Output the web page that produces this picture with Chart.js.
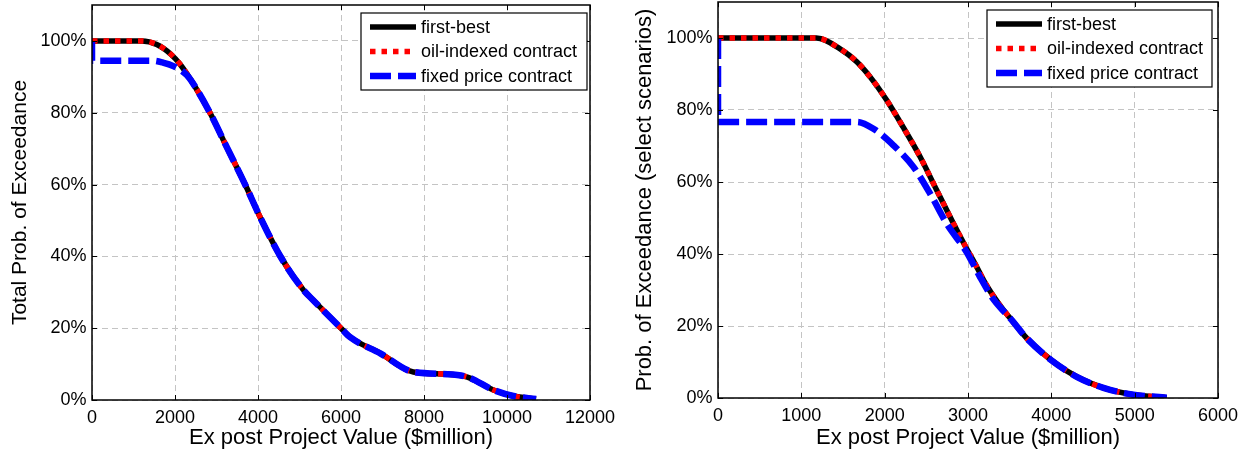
<!DOCTYPE html>
<html>
<head>
<meta charset="utf-8">
<script src="https://cdn.jsdelivr.net/npm/chart.js@4.4.0/dist/chart.umd.min.js"></script>
<style>
  body { margin: 0; background: #fff; }
  #wrap { position: relative; width: 1247px; height: 455px; }
  #c1 { position: absolute; left: 0; top: 0; }
  #c2 { position: absolute; left: 624px; top: 0; }
</style>
</head>
<body>
<div id="wrap">
  <canvas id="c1" width="620" height="455"></canvas>
  <canvas id="c2" width="623" height="455"></canvas>
</div>
<script>
// ---- data ----
var seriesNames = ['first-best', 'oil-indexed contract', 'fixed price contract'];

// left panel: total probability of exceedance
var leftBestX = [0, 1200, 1560, 1900, 2122, 2444, 2846, 3248, 3690, 4052, 4534, 5097, 5330, 6000, 6220, 6946, 7742, 8562, 9045, 9672, 10154, 10700];
var leftBestY = [100, 100, 99, 96.3, 93.5, 88, 79.9, 70.4, 60, 50.9, 40.1, 30.6, 27.8, 20, 17.5, 13, 7.8, 7.2, 6.4, 2.8, 1.1, 0.3];
// oil-indexed sits right on top of first-best
var leftOilX = [0, 1200, 1560, 1900, 2122, 2444, 2846, 3248, 3690, 4052, 4534, 5097, 5330, 6000, 6220, 6946, 7742, 8562, 9045, 9672, 10154, 10700];
var leftOilY = [100, 100, 99, 96.3, 93.5, 88, 79.9, 70.4, 60, 50.9, 40.1, 30.6, 27.8, 20, 17.5, 13, 7.8, 7.2, 6.4, 2.8, 1.1, 0.3];
var leftFixX = [0, 0, 1450, 1700, 1960, 2283, 2444, 2846, 3248, 3690, 4052, 4534, 5097, 5330, 6000, 6220, 6946, 7742, 8562, 9045, 9672, 10154, 10700];
var leftFixY = [100, 94.5, 94.5, 94, 93, 90.5, 88, 79.9, 70.4, 60, 50.9, 40.1, 30.6, 27.8, 20, 17.5, 13, 7.8, 7.2, 6.4, 2.8, 1.1, 0.3];

// right panel: select scenarios
var rightBestX = [0, 1180, 1465, 1665, 1825, 2025, 2220, 2425, 2625, 2825, 2965, 3105, 3200, 3305, 3420, 3505, 3705, 4000, 4305, 4625, 4985, 5385];
var rightBestY = [100, 100, 97, 93.4, 89.2, 82.7, 75.3, 67, 57.7, 48.5, 42.3, 36.4, 32.2, 28.3, 24.6, 22.2, 16.6, 10.5, 5.9, 2.8, 0.9, 0.1];
var rightOilX = [0, 1180, 1465, 1665, 1825, 2025, 2220, 2425, 2625, 2825, 2965, 3105, 3200, 3305, 3420, 3505, 3705, 4000, 4305, 4625, 4985, 5385];
var rightOilY = [100, 100, 97, 93.4, 89.2, 82.7, 75.3, 67, 57.7, 48.5, 42.3, 36.4, 32.2, 28.3, 24.6, 22.2, 16.6, 10.5, 5.9, 2.8, 0.9, 0.1];
var rightFixX = [0, 0, 1665, 1865, 2105, 2345, 2545, 2745, 2985, 3145, 3300, 3420, 3505, 3705, 4000, 4305, 4625, 4985, 5385];
var rightFixY = [100, 76.7, 76.7, 74.8, 70.2, 64.2, 56.8, 48.4, 40.5, 33.6, 27.6, 24.3, 22.2, 16.6, 10.5, 5.9, 2.8, 0.9, 0.1];

var yTicks = [0, 20, 40, 60, 80, 100];

var FONT = '"Liberation Sans", Arial, sans-serif';

function pts(xs, ys) {
  return xs.map(function (x, i) { return { x: x, y: ys[i] }; });
}

// box round the plot, inward tick marks, and the legend inside the plot
var framePlugin = {
  id: 'frame',
  afterDatasetsDraw: function (chart, args, opts) {
    var ctx = chart.ctx, a = chart.chartArea;
    var xs = chart.scales.x, ys = chart.scales.y;
    ctx.save();
    ctx.strokeStyle = '#000';
    ctx.lineWidth = 1;
    ctx.setLineDash([]);
    ctx.beginPath();
    xs.ticks.forEach(function (t) {
      var px = Math.round(xs.getPixelForValue(t.value)) + 0.5;
      ctx.moveTo(px, a.bottom); ctx.lineTo(px, a.bottom - 5);
      ctx.moveTo(px, a.top); ctx.lineTo(px, a.top + 5);
    });
    ys.ticks.forEach(function (t) {
      var py = Math.round(ys.getPixelForValue(t.value)) + 0.5;
      ctx.moveTo(a.left, py); ctx.lineTo(a.left + 5, py);
      ctx.moveTo(a.right, py); ctx.lineTo(a.right - 5, py);
    });
    ctx.stroke();
    ctx.lineWidth = 1.5;
    ctx.strokeRect(a.left, a.top, a.right - a.left, a.bottom - a.top);

    // legend
    var bx = a.right - opts.right - opts.width, by = a.top + opts.top;
    ctx.fillStyle = '#fff';
    ctx.fillRect(bx, by, opts.width, opts.height);
    ctx.lineWidth = 1.2;
    ctx.strokeRect(bx, by, opts.width, opts.height);
    ctx.font = '18px ' + FONT;
    ctx.textBaseline = 'middle';
    ctx.textAlign = 'left';
    chart.data.datasets.forEach(function (ds, i) {
      var ry = by + 14 + i * 24.5;
      ctx.beginPath();
      ctx.strokeStyle = ds.borderColor;
      ctx.lineWidth = ds.borderWidth;
      ctx.setLineDash(ds.borderDash || []);
      ctx.moveTo(bx + 9, ry); ctx.lineTo(bx + 55, ry);
      ctx.stroke();
      ctx.setLineDash([]);
      ctx.fillStyle = '#000';
      ctx.fillText(ds.label, bx + 60, ry + 1);
    });
    ctx.restore();
  }
};

function makeChart(id, o) {
  var tickFont = { family: FONT, size: 18 };
  var titleFont = { family: FONT, size: 22 };
  return new Chart(document.getElementById(id), {
    type: 'line',
    data: {
      datasets: [
        { label: seriesNames[0], data: pts(o.bestX, o.bestY), borderColor: '#000000', borderWidth: 5.5, borderDash: [], order: 3 },
        { label: seriesNames[1], data: pts(o.oilX, o.oilY), borderColor: '#ff0000', borderWidth: 5.5, borderDash: [5.5, 6], order: 2 },
        { label: seriesNames[2], data: pts(o.fixX, o.fixY), borderColor: '#0000ff', borderWidth: 6.5, borderDash: [21, 7], order: 1 }
      ]
    },
    options: {
      responsive: false,
      animation: false,
      layout: { padding: o.pad },
      elements: {
        point: { radius: 0 },
        line: { cubicInterpolationMode: 'monotone', fill: false, borderCapStyle: 'butt' }
      },
      plugins: {
        legend: { display: false },
        tooltip: { enabled: false },
        frame: o.legend
      },
      scales: {
        x: {
          type: 'linear', min: 0, max: o.xMax,
          afterFit: function (s) { s.height = o.xHeight; s.paddingLeft = 0; s.paddingRight = 0; },
          ticks: { stepSize: o.xStep, autoSkip: false, maxRotation: 0, color: '#000', font: tickFont, padding: 7,
                   callback: function (v) { return String(v); } },
          grid: { color: '#c4c4c4', lineWidth: 1, drawTicks: false },
          border: { display: false, dash: [6, 4] },
          title: { display: true, text: 'Ex post Project Value ($million)', color: '#000', font: titleFont, padding: { top: 0, bottom: 4 } }
        },
        y: {
          type: 'linear', min: 0, max: 110,
          afterFit: function (s) { s.width = o.yWidth; s.paddingTop = 0; s.paddingBottom = 0; },
          afterBuildTicks: function (s) { s.ticks = yTicks.map(function (v) { return { value: v }; }); },
          ticks: { color: '#000', font: tickFont, padding: 5.5, callback: function (v) { return v + '%'; } },
          grid: { color: '#c4c4c4', lineWidth: 1, drawTicks: false },
          border: { display: false, dash: [6, 4] },
          title: { display: true, text: o.yTitle, color: '#000', font: { family: FONT, size: o.yTitleSize }, padding: { top: 8, bottom: 0 } }
        }
      }
    },
    plugins: [framePlugin]
  });
}

makeChart('c1', {
  bestX: leftBestX, bestY: leftBestY, oilX: leftOilX, oilY: leftOilY, fixX: leftFixX, fixY: leftFixY,
  xMax: 12000, xStep: 2000, yTitle: 'Total Prob. of Exceedance', yTitleSize: 21,
  pad: { left: 0, right: 30, top: 5, bottom: 0 }, yWidth: 92, xHeight: 55,
  legend: { right: 3, top: 8, width: 226, height: 77 }
});

makeChart('c2', {
  bestX: rightBestX, bestY: rightBestY, oilX: rightOilX, oilY: rightOilY, fixX: rightFixX, fixY: rightFixY,
  xMax: 6000, xStep: 1000, yTitle: 'Prob. of Exceedance (select scenarios)', yTitleSize: 22,
  pad: { left: 0, right: 29, top: 2, bottom: 0 }, yWidth: 94, xHeight: 57,
  legend: { right: 6, top: 8, width: 225, height: 77 }
});
</script>
</body>
</html>
